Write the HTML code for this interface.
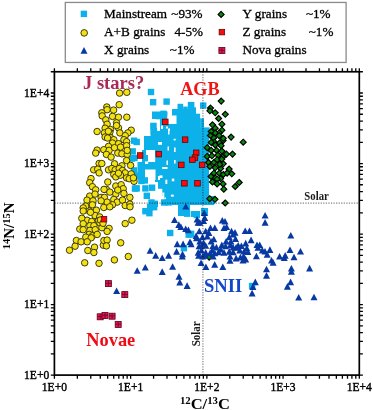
<!DOCTYPE html><html><head><meta charset="utf-8"><style>html,body{margin:0;padding:0;background:#fff;}svg{display:block;will-change:transform;}text{font-family:"Liberation Serif",serif;}</style></head><body>
<svg width="373" height="410" viewBox="0 0 373 410">
<rect width="373" height="410" fill="#fff"/>
<rect x="65.3" y="2.45" width="280.8" height="60.0" fill="none" stroke="#8a8a8a" stroke-width="1.3"/>
<rect x="80.7" y="10.7" width="6.4" height="6.4" fill="#0db1ea"/>
<circle cx="84.2" cy="32.9" r="3.3" fill="#f3e212" stroke="#363206" stroke-width="0.95"/>
<path d="M84.0 47.1l3.5 6.6h-7z" fill="#0838a2"/>
<path d="M221.1 11.4l3.0 3.0l-3.0 3.0l-3.0 -3.0z" fill="#058a0a" stroke="#000" stroke-width="1.15"/>
<rect x="219.1" y="29.3" width="5.6" height="5.6" fill="#ff0808" stroke="#400808" stroke-width="0.7"/>
<g><rect x="218.9" y="47.5" width="6" height="6" fill="#ec1450" stroke="#5a0020" stroke-width="0.8"/><path d="M218.9 50.2h6M221.9 47.5v6" stroke="#6a0a28" stroke-width="0.9"/></g>
<rect x="199" y="128" width="10" height="8" fill="#0db1ea"/>
<rect x="144" y="136" width="65" height="14" fill="#0db1ea"/>
<rect x="155" y="150" width="54" height="13" fill="#0db1ea"/>
<rect x="142" y="150" width="6" height="13" fill="#0db1ea"/>
<rect x="155" y="170" width="54" height="12" fill="#0db1ea"/>
<rect x="158" y="182" width="51" height="14" fill="#0db1ea"/>
<rect x="163" y="196" width="51" height="9" fill="#0db1ea"/>
<rect x="191" y="211" width="9" height="6" fill="#0db1ea"/>
<rect x="201" y="208" width="7" height="8" fill="#0db1ea"/>
<rect x="178" y="205" width="12" height="11" fill="#0db1ea"/>
<rect x="152" y="111.5" width="15.5" height="7.5" fill="#0db1ea"/>
<rect x="150.5" y="123" width="5.5" height="14" fill="#0db1ea"/>
<rect x="160" y="119" width="12" height="18" fill="#0db1ea"/>
<rect x="155" y="131" width="6" height="6" fill="#0db1ea"/>
<rect x="177.5" y="103.8" width="5.699999999999989" height="6.200000000000003" fill="#0db1ea"/>
<rect x="183.2" y="106.6" width="4.600000000000023" height="3.4000000000000057" fill="#0db1ea"/>
<rect x="187.8" y="101.9" width="6.599999999999994" height="8.099999999999994" fill="#0db1ea"/>
<rect x="172" y="109" width="24" height="27" fill="#0db1ea"/>
<rect x="193.7" y="107.3" width="2.3000000000000114" height="1.7000000000000028" fill="#0db1ea"/>
<rect x="196" y="113.7" width="4.099999999999994" height="22.299999999999997" fill="#0db1ea"/>
<rect x="200.1" y="118.4" width="3.9000000000000057" height="9.599999999999994" fill="#0db1ea"/>
<rect x="137.5" y="162" width="71.5" height="8" fill="#0db1ea"/>
<rect x="137.5" y="170" width="7.5" height="10" fill="#0db1ea"/>
<rect x="146" y="150" width="5.400000000000006" height="5" fill="#fff"/>
<rect x="150.4" y="156" width="4.799999999999983" height="5.400000000000006" fill="#fff"/>
<rect x="145" y="161.4" width="3.1999999999999886" height="2.5999999999999943" fill="#fff"/>
<rect x="145" y="169.5" width="10.5" height="10.5" fill="#fff"/>
<rect x="158" y="142" width="4" height="2.8000000000000114" fill="#fff"/>
<rect x="162.2" y="167" width="5.300000000000011" height="2" fill="#fff"/>
<rect x="167.5" y="146.5" width="1.5" height="4.0" fill="#fff"/>
<rect x="174" y="147.5" width="1.5999999999999943" height="4.5" fill="#fff"/>
<rect x="174" y="160" width="1.5999999999999943" height="3.5" fill="#fff"/>
<rect x="166.5" y="160.5" width="1.5" height="4.5" fill="#fff"/>
<rect x="158" y="176" width="2" height="4" fill="#fff"/>
<rect x="161" y="125.5" width="2" height="3.5" fill="#fff"/>
<rect x="168" y="131" width="1.5" height="3.5" fill="#fff"/>
<rect x="167.5" y="115.5" width="9.0" height="8.5" fill="#fff"/>
<rect x="166" y="126.5" width="2" height="2.0" fill="#fff"/>
<rect x="168" y="128.5" width="2" height="2.5" fill="#fff"/>
<rect x="173.6" y="138.8" width="2.0999999999999943" height="1.5999999999999943" fill="#fff"/>
<rect x="158" y="188.8" width="4.300000000000011" height="12.199999999999989" fill="#fff"/>
<rect x="162.3" y="192.5" width="2.0" height="7.5" fill="#fff"/>
<rect x="164.3" y="197.5" width="1.6999999999999886" height="2.0" fill="#fff"/>
<rect x="165.4" y="179.7" width="1.9000000000000057" height="4.300000000000011" fill="#fff"/>
<rect x="171.8" y="178.6" width="2.5" height="2.700000000000017" fill="#fff"/>
<rect x="170.9" y="194.7" width="2.9000000000000057" height="1.9000000000000057" fill="#fff"/>
<rect x="159.5" y="175.4" width="3.0" height="2.5999999999999943" fill="#fff"/>
<rect x="147.8" y="88.8" width="6.4" height="6.4" fill="#0db1ea"/>
<rect x="149.9" y="99.0" width="6.4" height="6.4" fill="#0db1ea"/>
<rect x="163.4" y="98.4" width="6.4" height="6.4" fill="#0db1ea"/>
<rect x="200.0" y="102.4" width="6.4" height="6.4" fill="#0db1ea"/>
<rect x="130.8" y="137.5" width="6.4" height="6.4" fill="#0db1ea"/>
<rect x="133.5" y="138.8" width="6.4" height="6.4" fill="#0db1ea"/>
<rect x="129.5" y="148.2" width="6.4" height="6.4" fill="#0db1ea"/>
<rect x="131.3" y="154.8" width="6.4" height="6.4" fill="#0db1ea"/>
<rect x="132.8" y="172.5" width="6.4" height="6.4" fill="#0db1ea"/>
<rect x="138.2" y="177.8" width="6.4" height="6.4" fill="#0db1ea"/>
<rect x="141.6" y="177.2" width="6.4" height="6.4" fill="#0db1ea"/>
<rect x="133.5" y="185.2" width="6.4" height="6.4" fill="#0db1ea"/>
<rect x="142.2" y="185.2" width="6.4" height="6.4" fill="#0db1ea"/>
<rect x="148.9" y="184.5" width="6.4" height="6.4" fill="#0db1ea"/>
<rect x="143.6" y="192.6" width="6.4" height="6.4" fill="#0db1ea"/>
<rect x="148.3" y="199.3" width="6.4" height="6.4" fill="#0db1ea"/>
<rect x="151.6" y="200.6" width="6.4" height="6.4" fill="#0db1ea"/>
<rect x="146.9" y="204.0" width="6.4" height="6.4" fill="#0db1ea"/>
<rect x="150.9" y="204.0" width="6.4" height="6.4" fill="#0db1ea"/>
<rect x="142.2" y="208.0" width="6.4" height="6.4" fill="#0db1ea"/>
<rect x="146.2" y="210.0" width="6.4" height="6.4" fill="#0db1ea"/>
<rect x="161.0" y="199.3" width="6.4" height="6.4" fill="#0db1ea"/>
<rect x="165.4" y="199.2" width="6.4" height="6.4" fill="#0db1ea"/>
<rect x="167.0" y="229.8" width="6.4" height="6.4" fill="#0db1ea"/>
<rect x="185.5" y="231.4" width="6.4" height="6.4" fill="#0db1ea"/>
<rect x="180.7" y="245.0" width="6.4" height="6.4" fill="#0db1ea"/>
<rect x="187.3" y="231.3" width="6.4" height="6.4" fill="#0db1ea"/>
<rect x="248.9" y="282.8" width="6.4" height="6.4" fill="#0db1ea"/>
<rect x="193.6" y="211.8" width="6.4" height="6.4" fill="#0db1ea"/>
<rect x="203.3" y="127.4" width="6.4" height="6.4" fill="#0db1ea"/>
<rect x="155.6" y="112.9" width="6.4" height="6.4" fill="#0db1ea"/>
<rect x="160.3" y="110.6" width="6.4" height="6.4" fill="#0db1ea"/>
<rect x="150.3" y="122.7" width="6.4" height="6.4" fill="#0db1ea"/>
<rect x="150.7" y="128.0" width="6.4" height="6.4" fill="#0db1ea"/>
<rect x="182.3" y="206.4" width="6.4" height="6.4" fill="#0db1ea"/>
<rect x="178.2" y="208.1" width="6.4" height="6.4" fill="#0db1ea"/>
<rect x="183.9" y="210.5" width="6.4" height="6.4" fill="#0db1ea"/>
<rect x="208.8" y="197.8" width="6.4" height="6.4" fill="#0db1ea"/>
<rect x="187.9" y="230.6" width="6.4" height="6.4" fill="#0db1ea"/>
<rect x="130.8" y="167.2" width="6.4" height="6.4" fill="#0db1ea"/>
<rect x="128.6" y="155.4" width="6.4" height="6.4" fill="#0db1ea"/>
<rect x="131.8" y="185.4" width="6.4" height="6.4" fill="#0db1ea"/>
<path d="M209.1 254.1l3.0 3.0l-3.0 3.0l-3.0 -3.0z" fill="#058a0a" stroke="#000" stroke-width="1.15"/>
<path d="M185.8 203.0l3.5 6.6h-7z" fill="#0838a2"/>
<path d="M204.3 209.5l3.5 6.6h-7z" fill="#0838a2"/>
<path d="M198.7 252.1l3.5 6.6h-7z" fill="#0838a2"/>
<path d="M205.1 252.1l3.5 6.6h-7z" fill="#0838a2"/>
<path d="M150.1 247.2l3.5 6.6h-7z" fill="#0838a2"/>
<path d="M155.7 252.1l3.5 6.6h-7z" fill="#0838a2"/>
<path d="M162.2 254.5l3.5 6.6h-7z" fill="#0838a2"/>
<path d="M168.6 252.1l3.5 6.6h-7z" fill="#0838a2"/>
<path d="M182.3 252.9l3.5 6.6h-7z" fill="#0838a2"/>
<path d="M265.1 211.9l3.5 6.6h-7z" fill="#0838a2"/>
<path d="M265.1 219.1l3.5 6.6h-7z" fill="#0838a2"/>
<path d="M290.8 232.0l3.5 6.6h-7z" fill="#0838a2"/>
<path d="M290.0 246.4l3.5 6.6h-7z" fill="#0838a2"/>
<path d="M300.5 248.0l3.5 6.6h-7z" fill="#0838a2"/>
<path d="M279.6 252.9l3.5 6.6h-7z" fill="#0838a2"/>
<path d="M285.2 252.1l3.5 6.6h-7z" fill="#0838a2"/>
<path d="M294.0 253.7l3.5 6.6h-7z" fill="#0838a2"/>
<path d="M309.6 264.8l3.5 6.6h-7z" fill="#0838a2"/>
<path d="M145.3 264.0l3.5 6.6h-7z" fill="#0838a2"/>
<path d="M137.2 267.2l3.5 6.6h-7z" fill="#0838a2"/>
<path d="M162.2 268.3l3.5 6.6h-7z" fill="#0838a2"/>
<path d="M172.6 263.2l3.5 6.6h-7z" fill="#0838a2"/>
<path d="M179.0 273.1l3.5 6.6h-7z" fill="#0838a2"/>
<path d="M179.8 278.8l3.5 6.6h-7z" fill="#0838a2"/>
<path d="M187.1 282.3l3.5 6.6h-7z" fill="#0838a2"/>
<path d="M202.7 253.0l3.5 6.6h-7z" fill="#0838a2"/>
<path d="M201.1 259.5l3.5 6.6h-7z" fill="#0838a2"/>
<path d="M205.9 263.5l3.5 6.6h-7z" fill="#0838a2"/>
<path d="M214.7 261.1l3.5 6.6h-7z" fill="#0838a2"/>
<path d="M222.8 263.5l3.5 6.6h-7z" fill="#0838a2"/>
<path d="M213.1 253.0l3.5 6.6h-7z" fill="#0838a2"/>
<path d="M230.0 253.0l3.5 6.6h-7z" fill="#0838a2"/>
<path d="M230.0 257.1l3.5 6.6h-7z" fill="#0838a2"/>
<path d="M284.2 254.5l3.5 6.6h-7z" fill="#0838a2"/>
<path d="M266.5 265.7l3.5 6.6h-7z" fill="#0838a2"/>
<path d="M266.5 272.1l3.5 6.6h-7z" fill="#0838a2"/>
<path d="M291.4 264.9l3.5 6.6h-7z" fill="#0838a2"/>
<path d="M291.4 268.1l3.5 6.6h-7z" fill="#0838a2"/>
<path d="M255.3 278.6l3.5 6.6h-7z" fill="#0838a2"/>
<path d="M252.9 283.4l3.5 6.6h-7z" fill="#0838a2"/>
<path d="M252.1 289.8l3.5 6.6h-7z" fill="#0838a2"/>
<path d="M290.6 278.6l3.5 6.6h-7z" fill="#0838a2"/>
<path d="M287.4 283.1l3.5 6.6h-7z" fill="#0838a2"/>
<path d="M298.7 293.9l3.5 6.6h-7z" fill="#0838a2"/>
<path d="M314.0 293.7l3.5 6.6h-7z" fill="#0838a2"/>
<path d="M116.6 287.4l3.5 6.6h-7z" fill="#0838a2"/>
<path d="M197.1 215.9l3.5 6.6h-7z" fill="#0838a2"/>
<path d="M204.7 214.3l3.5 6.6h-7z" fill="#0838a2"/>
<path d="M203.6 217.5l3.5 6.6h-7z" fill="#0838a2"/>
<path d="M199.8 219.1l3.5 6.6h-7z" fill="#0838a2"/>
<path d="M222.3 217.0l3.5 6.6h-7z" fill="#0838a2"/>
<path d="M225.0 218.0l3.5 6.6h-7z" fill="#0838a2"/>
<path d="M226.6 223.4l3.5 6.6h-7z" fill="#0838a2"/>
<path d="M224.0 224.5l3.5 6.6h-7z" fill="#0838a2"/>
<path d="M210.5 224.5l3.5 6.6h-7z" fill="#0838a2"/>
<path d="M214.8 224.5l3.5 6.6h-7z" fill="#0838a2"/>
<path d="M199.3 227.7l3.5 6.6h-7z" fill="#0838a2"/>
<path d="M205.7 227.7l3.5 6.6h-7z" fill="#0838a2"/>
<path d="M208.9 229.3l3.5 6.6h-7z" fill="#0838a2"/>
<path d="M196.1 232.5l3.5 6.6h-7z" fill="#0838a2"/>
<path d="M202.5 233.6l3.5 6.6h-7z" fill="#0838a2"/>
<path d="M207.3 233.0l3.5 6.6h-7z" fill="#0838a2"/>
<path d="M213.8 235.7l3.5 6.6h-7z" fill="#0838a2"/>
<path d="M211.1 237.9l3.5 6.6h-7z" fill="#0838a2"/>
<path d="M199.8 237.9l3.5 6.6h-7z" fill="#0838a2"/>
<path d="M203.6 239.5l3.5 6.6h-7z" fill="#0838a2"/>
<path d="M231.5 227.7l3.5 6.6h-7z" fill="#0838a2"/>
<path d="M233.1 230.9l3.5 6.6h-7z" fill="#0838a2"/>
<path d="M229.3 233.6l3.5 6.6h-7z" fill="#0838a2"/>
<path d="M226.1 237.9l3.5 6.6h-7z" fill="#0838a2"/>
<path d="M230.9 237.9l3.5 6.6h-7z" fill="#0838a2"/>
<path d="M221.8 241.6l3.5 6.6h-7z" fill="#0838a2"/>
<path d="M225.6 242.7l3.5 6.6h-7z" fill="#0838a2"/>
<path d="M230.4 241.6l3.5 6.6h-7z" fill="#0838a2"/>
<path d="M233.1 243.8l3.5 6.6h-7z" fill="#0838a2"/>
<path d="M201.4 242.7l3.5 6.6h-7z" fill="#0838a2"/>
<path d="M205.7 242.2l3.5 6.6h-7z" fill="#0838a2"/>
<path d="M212.7 242.7l3.5 6.6h-7z" fill="#0838a2"/>
<path d="M216.4 243.8l3.5 6.6h-7z" fill="#0838a2"/>
<path d="M220.7 245.9l3.5 6.6h-7z" fill="#0838a2"/>
<path d="M212.2 247.0l3.5 6.6h-7z" fill="#0838a2"/>
<path d="M201.4 247.0l3.5 6.6h-7z" fill="#0838a2"/>
<path d="M198.2 249.1l3.5 6.6h-7z" fill="#0838a2"/>
<path d="M205.7 249.1l3.5 6.6h-7z" fill="#0838a2"/>
<path d="M210.0 249.7l3.5 6.6h-7z" fill="#0838a2"/>
<path d="M224.0 249.1l3.5 6.6h-7z" fill="#0838a2"/>
<path d="M229.3 248.1l3.5 6.6h-7z" fill="#0838a2"/>
<path d="M233.1 248.6l3.5 6.6h-7z" fill="#0838a2"/>
<path d="M218.6 248.6l3.5 6.6h-7z" fill="#0838a2"/>
<path d="M214.8 249.7l3.5 6.6h-7z" fill="#0838a2"/>
<path d="M245.2 227.5l3.5 6.6h-7z" fill="#0838a2"/>
<path d="M249.5 227.5l3.5 6.6h-7z" fill="#0838a2"/>
<path d="M235.0 229.1l3.5 6.6h-7z" fill="#0838a2"/>
<path d="M235.5 235.5l3.5 6.6h-7z" fill="#0838a2"/>
<path d="M251.1 236.6l3.5 6.6h-7z" fill="#0838a2"/>
<path d="M245.7 239.8l3.5 6.6h-7z" fill="#0838a2"/>
<path d="M238.2 242.0l3.5 6.6h-7z" fill="#0838a2"/>
<path d="M241.4 242.5l3.5 6.6h-7z" fill="#0838a2"/>
<path d="M236.1 244.1l3.5 6.6h-7z" fill="#0838a2"/>
<path d="M246.8 244.7l3.5 6.6h-7z" fill="#0838a2"/>
<path d="M239.8 246.8l3.5 6.6h-7z" fill="#0838a2"/>
<path d="M244.1 247.9l3.5 6.6h-7z" fill="#0838a2"/>
<path d="M247.9 248.4l3.5 6.6h-7z" fill="#0838a2"/>
<path d="M257.0 241.4l3.5 6.6h-7z" fill="#0838a2"/>
<path d="M259.7 241.4l3.5 6.6h-7z" fill="#0838a2"/>
<path d="M258.0 244.1l3.5 6.6h-7z" fill="#0838a2"/>
<path d="M262.3 246.8l3.5 6.6h-7z" fill="#0838a2"/>
<path d="M265.0 247.9l3.5 6.6h-7z" fill="#0838a2"/>
<path d="M269.9 246.3l3.5 6.6h-7z" fill="#0838a2"/>
<path d="M256.4 252.7l3.5 6.6h-7z" fill="#0838a2"/>
<path d="M267.2 251.1l3.5 6.6h-7z" fill="#0838a2"/>
<path d="M243.6 252.7l3.5 6.6h-7z" fill="#0838a2"/>
<path d="M240.4 253.8l3.5 6.6h-7z" fill="#0838a2"/>
<path d="M245.7 255.9l3.5 6.6h-7z" fill="#0838a2"/>
<path d="M236.1 254.8l3.5 6.6h-7z" fill="#0838a2"/>
<path d="M243.0 257.0l3.5 6.6h-7z" fill="#0838a2"/>
<path d="M271.5 257.0l3.5 6.6h-7z" fill="#0838a2"/>
<path d="M273.1 259.1l3.5 6.6h-7z" fill="#0838a2"/>
<path d="M174.5 216.4l3.5 6.6h-7z" fill="#0838a2"/>
<path d="M178.8 221.3l3.5 6.6h-7z" fill="#0838a2"/>
<path d="M180.9 223.4l3.5 6.6h-7z" fill="#0838a2"/>
<path d="M185.7 225.5l3.5 6.6h-7z" fill="#0838a2"/>
<path d="M188.4 226.6l3.5 6.6h-7z" fill="#0838a2"/>
<path d="M198.1 219.1l3.5 6.6h-7z" fill="#0838a2"/>
<path d="M196.5 234.7l3.5 6.6h-7z" fill="#0838a2"/>
<path d="M177.2 240.6l3.5 6.6h-7z" fill="#0838a2"/>
<path d="M183.1 240.6l3.5 6.6h-7z" fill="#0838a2"/>
<path d="M190.0 238.4l3.5 6.6h-7z" fill="#0838a2"/>
<path d="M191.1 240.6l3.5 6.6h-7z" fill="#0838a2"/>
<path d="M176.6 248.1l3.5 6.6h-7z" fill="#0838a2"/>
<path d="M182.5 250.7l3.5 6.6h-7z" fill="#0838a2"/>
<path d="M199.1 242.7l3.5 6.6h-7z" fill="#0838a2"/>
<line x1="54.4" y1="203.1" x2="359.3" y2="203.1" stroke="#000" stroke-opacity="0.47" stroke-width="1.2" stroke-dasharray="1.3 1.26"/><line x1="202.9" y1="71.76985955579772" x2="202.9" y2="375.1" stroke="#000" stroke-opacity="0.47" stroke-width="1.2" stroke-dasharray="1.3 1.26"/>
<circle cx="119.6" cy="93.1" r="3.25" fill="#f3e212" stroke="#363206" stroke-width="0.95"/>
<circle cx="126.8" cy="92.3" r="3.25" fill="#f3e212" stroke="#363206" stroke-width="0.95"/>
<circle cx="119.2" cy="104.7" r="3.25" fill="#f3e212" stroke="#363206" stroke-width="0.95"/>
<circle cx="106.8" cy="107.0" r="3.25" fill="#f3e212" stroke="#363206" stroke-width="0.95"/>
<circle cx="107.1" cy="109.7" r="3.25" fill="#f3e212" stroke="#363206" stroke-width="0.95"/>
<circle cx="113.6" cy="110.1" r="3.25" fill="#f3e212" stroke="#363206" stroke-width="0.95"/>
<circle cx="101.8" cy="112.8" r="3.25" fill="#f3e212" stroke="#363206" stroke-width="0.95"/>
<circle cx="102.2" cy="115.9" r="3.25" fill="#f3e212" stroke="#363206" stroke-width="0.95"/>
<circle cx="112.5" cy="116.4" r="3.25" fill="#f3e212" stroke="#363206" stroke-width="0.95"/>
<circle cx="118.5" cy="117.2" r="3.25" fill="#f3e212" stroke="#363206" stroke-width="0.95"/>
<circle cx="126.8" cy="117.2" r="3.25" fill="#f3e212" stroke="#363206" stroke-width="0.95"/>
<circle cx="105.8" cy="119.9" r="3.25" fill="#f3e212" stroke="#363206" stroke-width="0.95"/>
<circle cx="107.1" cy="124.2" r="3.25" fill="#f3e212" stroke="#363206" stroke-width="0.95"/>
<circle cx="116.5" cy="122.8" r="3.25" fill="#f3e212" stroke="#363206" stroke-width="0.95"/>
<circle cx="118.5" cy="127.9" r="3.25" fill="#f3e212" stroke="#363206" stroke-width="0.95"/>
<circle cx="110.5" cy="129.5" r="3.25" fill="#f3e212" stroke="#363206" stroke-width="0.95"/>
<circle cx="97.1" cy="131.5" r="3.25" fill="#f3e212" stroke="#363206" stroke-width="0.95"/>
<circle cx="131.2" cy="130.2" r="3.25" fill="#f3e212" stroke="#363206" stroke-width="0.95"/>
<circle cx="119.9" cy="132.9" r="3.25" fill="#f3e212" stroke="#363206" stroke-width="0.95"/>
<circle cx="105.1" cy="128.2" r="3.25" fill="#f3e212" stroke="#363206" stroke-width="0.95"/>
<circle cx="116.5" cy="125.5" r="3.25" fill="#f3e212" stroke="#363206" stroke-width="0.95"/>
<circle cx="104.4" cy="132.9" r="3.25" fill="#f3e212" stroke="#363206" stroke-width="0.95"/>
<circle cx="127.9" cy="132.9" r="3.25" fill="#f3e212" stroke="#363206" stroke-width="0.95"/>
<circle cx="109.8" cy="132.3" r="3.25" fill="#f3e212" stroke="#363206" stroke-width="0.95"/>
<circle cx="105.1" cy="137.0" r="3.25" fill="#f3e212" stroke="#363206" stroke-width="0.95"/>
<circle cx="110.5" cy="137.7" r="3.25" fill="#f3e212" stroke="#363206" stroke-width="0.95"/>
<circle cx="113.8" cy="139.7" r="3.25" fill="#f3e212" stroke="#363206" stroke-width="0.95"/>
<circle cx="125.2" cy="135.7" r="3.25" fill="#f3e212" stroke="#363206" stroke-width="0.95"/>
<circle cx="123.9" cy="139.7" r="3.25" fill="#f3e212" stroke="#363206" stroke-width="0.95"/>
<circle cx="126.6" cy="141.7" r="3.25" fill="#f3e212" stroke="#363206" stroke-width="0.95"/>
<circle cx="112.5" cy="143.0" r="3.25" fill="#f3e212" stroke="#363206" stroke-width="0.95"/>
<circle cx="118.5" cy="143.7" r="3.25" fill="#f3e212" stroke="#363206" stroke-width="0.95"/>
<circle cx="108.5" cy="146.4" r="3.25" fill="#f3e212" stroke="#363206" stroke-width="0.95"/>
<circle cx="97.1" cy="150.1" r="3.25" fill="#f3e212" stroke="#363206" stroke-width="0.95"/>
<circle cx="95.7" cy="153.1" r="3.25" fill="#f3e212" stroke="#363206" stroke-width="0.95"/>
<circle cx="103.8" cy="149.7" r="3.25" fill="#f3e212" stroke="#363206" stroke-width="0.95"/>
<circle cx="109.1" cy="150.4" r="3.25" fill="#f3e212" stroke="#363206" stroke-width="0.95"/>
<circle cx="114.5" cy="147.7" r="3.25" fill="#f3e212" stroke="#363206" stroke-width="0.95"/>
<circle cx="120.5" cy="147.1" r="3.25" fill="#f3e212" stroke="#363206" stroke-width="0.95"/>
<circle cx="126.6" cy="145.7" r="3.25" fill="#f3e212" stroke="#363206" stroke-width="0.95"/>
<circle cx="117.8" cy="153.1" r="3.25" fill="#f3e212" stroke="#363206" stroke-width="0.95"/>
<circle cx="106.4" cy="154.4" r="3.25" fill="#f3e212" stroke="#363206" stroke-width="0.95"/>
<circle cx="111.1" cy="157.1" r="3.25" fill="#f3e212" stroke="#363206" stroke-width="0.95"/>
<circle cx="121.9" cy="153.8" r="3.25" fill="#f3e212" stroke="#363206" stroke-width="0.95"/>
<circle cx="127.2" cy="154.4" r="3.25" fill="#f3e212" stroke="#363206" stroke-width="0.95"/>
<circle cx="127.2" cy="150.4" r="3.25" fill="#f3e212" stroke="#363206" stroke-width="0.95"/>
<circle cx="99.1" cy="163.5" r="3.25" fill="#f3e212" stroke="#363206" stroke-width="0.95"/>
<circle cx="101.8" cy="163.5" r="3.25" fill="#f3e212" stroke="#363206" stroke-width="0.95"/>
<circle cx="114.5" cy="163.8" r="3.25" fill="#f3e212" stroke="#363206" stroke-width="0.95"/>
<circle cx="126.6" cy="160.5" r="3.25" fill="#f3e212" stroke="#363206" stroke-width="0.95"/>
<circle cx="130.6" cy="165.4" r="3.25" fill="#f3e212" stroke="#363206" stroke-width="0.95"/>
<circle cx="121.9" cy="165.8" r="3.25" fill="#f3e212" stroke="#363206" stroke-width="0.95"/>
<circle cx="93.7" cy="169.8" r="3.25" fill="#f3e212" stroke="#363206" stroke-width="0.95"/>
<circle cx="97.7" cy="169.2" r="3.25" fill="#f3e212" stroke="#363206" stroke-width="0.95"/>
<circle cx="99.1" cy="172.9" r="3.25" fill="#f3e212" stroke="#363206" stroke-width="0.95"/>
<circle cx="108.5" cy="169.8" r="3.25" fill="#f3e212" stroke="#363206" stroke-width="0.95"/>
<circle cx="111.8" cy="168.5" r="3.25" fill="#f3e212" stroke="#363206" stroke-width="0.95"/>
<circle cx="115.2" cy="169.8" r="3.25" fill="#f3e212" stroke="#363206" stroke-width="0.95"/>
<circle cx="119.2" cy="168.5" r="3.25" fill="#f3e212" stroke="#363206" stroke-width="0.95"/>
<circle cx="122.5" cy="170.5" r="3.25" fill="#f3e212" stroke="#363206" stroke-width="0.95"/>
<circle cx="125.2" cy="172.9" r="3.25" fill="#f3e212" stroke="#363206" stroke-width="0.95"/>
<circle cx="131.2" cy="173.9" r="3.25" fill="#f3e212" stroke="#363206" stroke-width="0.95"/>
<circle cx="113.8" cy="174.5" r="3.25" fill="#f3e212" stroke="#363206" stroke-width="0.95"/>
<circle cx="115.8" cy="176.9" r="3.25" fill="#f3e212" stroke="#363206" stroke-width="0.95"/>
<circle cx="120.5" cy="175.2" r="3.25" fill="#f3e212" stroke="#363206" stroke-width="0.95"/>
<circle cx="91.0" cy="178.6" r="3.25" fill="#f3e212" stroke="#363206" stroke-width="0.95"/>
<circle cx="126.6" cy="177.9" r="3.25" fill="#f3e212" stroke="#363206" stroke-width="0.95"/>
<circle cx="118.5" cy="173.2" r="3.25" fill="#f3e212" stroke="#363206" stroke-width="0.95"/>
<circle cx="108.3" cy="131.3" r="3.25" fill="#f3e212" stroke="#363206" stroke-width="0.95"/>
<circle cx="107.6" cy="138.0" r="3.25" fill="#f3e212" stroke="#363206" stroke-width="0.95"/>
<circle cx="89.7" cy="182.7" r="3.25" fill="#f3e212" stroke="#363206" stroke-width="0.95"/>
<circle cx="107.8" cy="182.0" r="3.25" fill="#f3e212" stroke="#363206" stroke-width="0.95"/>
<circle cx="129.2" cy="178.7" r="3.25" fill="#f3e212" stroke="#363206" stroke-width="0.95"/>
<circle cx="115.8" cy="186.0" r="3.25" fill="#f3e212" stroke="#363206" stroke-width="0.95"/>
<circle cx="121.2" cy="184.7" r="3.25" fill="#f3e212" stroke="#363206" stroke-width="0.95"/>
<circle cx="123.2" cy="188.7" r="3.25" fill="#f3e212" stroke="#363206" stroke-width="0.95"/>
<circle cx="92.4" cy="186.7" r="3.25" fill="#f3e212" stroke="#363206" stroke-width="0.95"/>
<circle cx="95.7" cy="189.8" r="3.25" fill="#f3e212" stroke="#363206" stroke-width="0.95"/>
<circle cx="106.4" cy="189.4" r="3.25" fill="#f3e212" stroke="#363206" stroke-width="0.95"/>
<circle cx="109.8" cy="192.1" r="3.25" fill="#f3e212" stroke="#363206" stroke-width="0.95"/>
<circle cx="115.8" cy="194.1" r="3.25" fill="#f3e212" stroke="#363206" stroke-width="0.95"/>
<circle cx="123.9" cy="193.4" r="3.25" fill="#f3e212" stroke="#363206" stroke-width="0.95"/>
<circle cx="129.9" cy="197.4" r="3.25" fill="#f3e212" stroke="#363206" stroke-width="0.95"/>
<circle cx="89.7" cy="196.1" r="3.25" fill="#f3e212" stroke="#363206" stroke-width="0.95"/>
<circle cx="87.0" cy="200.1" r="3.25" fill="#f3e212" stroke="#363206" stroke-width="0.95"/>
<circle cx="93.0" cy="200.8" r="3.25" fill="#f3e212" stroke="#363206" stroke-width="0.95"/>
<circle cx="95.0" cy="194.1" r="3.25" fill="#f3e212" stroke="#363206" stroke-width="0.95"/>
<circle cx="101.1" cy="197.4" r="3.25" fill="#f3e212" stroke="#363206" stroke-width="0.95"/>
<circle cx="104.4" cy="197.4" r="3.25" fill="#f3e212" stroke="#363206" stroke-width="0.95"/>
<circle cx="107.1" cy="202.1" r="3.25" fill="#f3e212" stroke="#363206" stroke-width="0.95"/>
<circle cx="113.8" cy="199.4" r="3.25" fill="#f3e212" stroke="#363206" stroke-width="0.95"/>
<circle cx="117.2" cy="202.1" r="3.25" fill="#f3e212" stroke="#363206" stroke-width="0.95"/>
<circle cx="122.5" cy="200.1" r="3.25" fill="#f3e212" stroke="#363206" stroke-width="0.95"/>
<circle cx="112.5" cy="204.8" r="3.25" fill="#f3e212" stroke="#363206" stroke-width="0.95"/>
<circle cx="125.2" cy="205.5" r="3.25" fill="#f3e212" stroke="#363206" stroke-width="0.95"/>
<circle cx="129.9" cy="204.1" r="3.25" fill="#f3e212" stroke="#363206" stroke-width="0.95"/>
<circle cx="92.4" cy="204.8" r="3.25" fill="#f3e212" stroke="#363206" stroke-width="0.95"/>
<circle cx="103.8" cy="207.5" r="3.25" fill="#f3e212" stroke="#363206" stroke-width="0.95"/>
<circle cx="109.8" cy="206.8" r="3.25" fill="#f3e212" stroke="#363206" stroke-width="0.95"/>
<circle cx="89.0" cy="210.8" r="3.25" fill="#f3e212" stroke="#363206" stroke-width="0.95"/>
<circle cx="96.4" cy="210.2" r="3.25" fill="#f3e212" stroke="#363206" stroke-width="0.95"/>
<circle cx="95.0" cy="215.5" r="3.25" fill="#f3e212" stroke="#363206" stroke-width="0.95"/>
<circle cx="99.7" cy="216.9" r="3.25" fill="#f3e212" stroke="#363206" stroke-width="0.95"/>
<circle cx="87.0" cy="220.2" r="3.25" fill="#f3e212" stroke="#363206" stroke-width="0.95"/>
<circle cx="91.7" cy="221.5" r="3.25" fill="#f3e212" stroke="#363206" stroke-width="0.95"/>
<circle cx="98.4" cy="220.9" r="3.25" fill="#f3e212" stroke="#363206" stroke-width="0.95"/>
<circle cx="131.9" cy="220.2" r="3.25" fill="#f3e212" stroke="#363206" stroke-width="0.95"/>
<circle cx="125.2" cy="223.6" r="3.25" fill="#f3e212" stroke="#363206" stroke-width="0.95"/>
<circle cx="117.8" cy="190.0" r="3.25" fill="#f3e212" stroke="#363206" stroke-width="0.95"/>
<circle cx="85.7" cy="206.1" r="3.25" fill="#f3e212" stroke="#363206" stroke-width="0.95"/>
<circle cx="101.1" cy="200.8" r="3.25" fill="#f3e212" stroke="#363206" stroke-width="0.95"/>
<circle cx="83.2" cy="207.9" r="3.25" fill="#f3e212" stroke="#363206" stroke-width="0.95"/>
<circle cx="104.0" cy="189.4" r="3.25" fill="#f3e212" stroke="#363206" stroke-width="0.95"/>
<circle cx="83.2" cy="211.0" r="3.25" fill="#f3e212" stroke="#363206" stroke-width="0.95"/>
<circle cx="90.5" cy="212.3" r="3.25" fill="#f3e212" stroke="#363206" stroke-width="0.95"/>
<circle cx="81.8" cy="218.3" r="3.25" fill="#f3e212" stroke="#363206" stroke-width="0.95"/>
<circle cx="83.2" cy="223.7" r="3.25" fill="#f3e212" stroke="#363206" stroke-width="0.95"/>
<circle cx="99.9" cy="223.0" r="3.25" fill="#f3e212" stroke="#363206" stroke-width="0.95"/>
<circle cx="89.9" cy="225.7" r="3.25" fill="#f3e212" stroke="#363206" stroke-width="0.95"/>
<circle cx="93.9" cy="225.7" r="3.25" fill="#f3e212" stroke="#363206" stroke-width="0.95"/>
<circle cx="79.8" cy="229.1" r="3.25" fill="#f3e212" stroke="#363206" stroke-width="0.95"/>
<circle cx="83.2" cy="229.7" r="3.25" fill="#f3e212" stroke="#363206" stroke-width="0.95"/>
<circle cx="89.9" cy="230.4" r="3.25" fill="#f3e212" stroke="#363206" stroke-width="0.95"/>
<circle cx="95.2" cy="229.7" r="3.25" fill="#f3e212" stroke="#363206" stroke-width="0.95"/>
<circle cx="101.9" cy="227.7" r="3.25" fill="#f3e212" stroke="#363206" stroke-width="0.95"/>
<circle cx="89.2" cy="234.4" r="3.25" fill="#f3e212" stroke="#363206" stroke-width="0.95"/>
<circle cx="92.5" cy="235.8" r="3.25" fill="#f3e212" stroke="#363206" stroke-width="0.95"/>
<circle cx="97.2" cy="234.4" r="3.25" fill="#f3e212" stroke="#363206" stroke-width="0.95"/>
<circle cx="85.8" cy="237.1" r="3.25" fill="#f3e212" stroke="#363206" stroke-width="0.95"/>
<circle cx="91.2" cy="237.8" r="3.25" fill="#f3e212" stroke="#363206" stroke-width="0.95"/>
<circle cx="76.4" cy="240.5" r="3.25" fill="#f3e212" stroke="#363206" stroke-width="0.95"/>
<circle cx="81.1" cy="241.8" r="3.25" fill="#f3e212" stroke="#363206" stroke-width="0.95"/>
<circle cx="87.2" cy="241.8" r="3.25" fill="#f3e212" stroke="#363206" stroke-width="0.95"/>
<circle cx="75.1" cy="246.2" r="3.25" fill="#f3e212" stroke="#363206" stroke-width="0.95"/>
<circle cx="69.5" cy="250.2" r="3.25" fill="#f3e212" stroke="#363206" stroke-width="0.95"/>
<circle cx="94.5" cy="247.2" r="3.25" fill="#f3e212" stroke="#363206" stroke-width="0.95"/>
<circle cx="87.8" cy="250.5" r="3.25" fill="#f3e212" stroke="#363206" stroke-width="0.95"/>
<circle cx="93.9" cy="252.5" r="3.25" fill="#f3e212" stroke="#363206" stroke-width="0.95"/>
<circle cx="103.3" cy="245.2" r="3.25" fill="#f3e212" stroke="#363206" stroke-width="0.95"/>
<circle cx="103.9" cy="240.5" r="3.25" fill="#f3e212" stroke="#363206" stroke-width="0.95"/>
<circle cx="109.1" cy="228.4" r="3.25" fill="#f3e212" stroke="#363206" stroke-width="0.95"/>
<circle cx="107.1" cy="231.4" r="3.25" fill="#f3e212" stroke="#363206" stroke-width="0.95"/>
<circle cx="107.1" cy="240.1" r="3.25" fill="#f3e212" stroke="#363206" stroke-width="0.95"/>
<circle cx="106.4" cy="245.9" r="3.25" fill="#f3e212" stroke="#363206" stroke-width="0.95"/>
<circle cx="120.7" cy="242.8" r="3.25" fill="#f3e212" stroke="#363206" stroke-width="0.95"/>
<circle cx="128.3" cy="256.5" r="3.25" fill="#f3e212" stroke="#363206" stroke-width="0.95"/>
<circle cx="114.4" cy="259.9" r="3.25" fill="#f3e212" stroke="#363206" stroke-width="0.95"/>
<circle cx="99.0" cy="263.3" r="3.25" fill="#f3e212" stroke="#363206" stroke-width="0.95"/>
<circle cx="100.4" cy="220.0" r="3.25" fill="#f3e212" stroke="#363206" stroke-width="0.95"/>
<circle cx="103.0" cy="223.3" r="3.25" fill="#f3e212" stroke="#363206" stroke-width="0.95"/>
<circle cx="84.7" cy="262.8" r="3.25" fill="#f3e212" stroke="#363206" stroke-width="0.95"/>
<circle cx="134.0" cy="181.3" r="3.25" fill="#f3e212" stroke="#363206" stroke-width="0.95"/>
<circle cx="130.0" cy="206.8" r="3.25" fill="#f3e212" stroke="#363206" stroke-width="0.95"/>
<circle cx="133.4" cy="177.9" r="3.25" fill="#f3e212" stroke="#363206" stroke-width="0.95"/>
<path d="M221.2 98.1l3.0 3.0l-3.0 3.0l-3.0 -3.0z" fill="#058a0a" stroke="#000" stroke-width="1.15"/>
<path d="M210.5 105.1l3.0 3.0l-3.0 3.0l-3.0 -3.0z" fill="#058a0a" stroke="#000" stroke-width="1.15"/>
<path d="M209.9 107.8l3.0 3.0l-3.0 3.0l-3.0 -3.0z" fill="#058a0a" stroke="#000" stroke-width="1.15"/>
<path d="M215.2 109.8l3.0 3.0l-3.0 3.0l-3.0 -3.0z" fill="#058a0a" stroke="#000" stroke-width="1.15"/>
<path d="M218.6 115.5l3.0 3.0l-3.0 3.0l-3.0 -3.0z" fill="#058a0a" stroke="#000" stroke-width="1.15"/>
<path d="M221.9 121.2l3.0 3.0l-3.0 3.0l-3.0 -3.0z" fill="#058a0a" stroke="#000" stroke-width="1.15"/>
<path d="M212.5 121.8l3.0 3.0l-3.0 3.0l-3.0 -3.0z" fill="#058a0a" stroke="#000" stroke-width="1.15"/>
<path d="M215.2 125.2l3.0 3.0l-3.0 3.0l-3.0 -3.0z" fill="#058a0a" stroke="#000" stroke-width="1.15"/>
<path d="M211.2 128.5l3.0 3.0l-3.0 3.0l-3.0 -3.0z" fill="#058a0a" stroke="#000" stroke-width="1.15"/>
<path d="M221.9 127.2l3.0 3.0l-3.0 3.0l-3.0 -3.0z" fill="#058a0a" stroke="#000" stroke-width="1.15"/>
<path d="M219.2 129.9l3.0 3.0l-3.0 3.0l-3.0 -3.0z" fill="#058a0a" stroke="#000" stroke-width="1.15"/>
<path d="M231.1 134.1l3.0 3.0l-3.0 3.0l-3.0 -3.0z" fill="#058a0a" stroke="#000" stroke-width="1.15"/>
<path d="M213.7 134.9l3.0 3.0l-3.0 3.0l-3.0 -3.0z" fill="#058a0a" stroke="#000" stroke-width="1.15"/>
<path d="M223.1 137.6l3.0 3.0l-3.0 3.0l-3.0 -3.0z" fill="#058a0a" stroke="#000" stroke-width="1.15"/>
<path d="M243.2 139.2l3.0 3.0l-3.0 3.0l-3.0 -3.0z" fill="#058a0a" stroke="#000" stroke-width="1.15"/>
<path d="M214.4 139.2l3.0 3.0l-3.0 3.0l-3.0 -3.0z" fill="#058a0a" stroke="#000" stroke-width="1.15"/>
<path d="M219.7 139.9l3.0 3.0l-3.0 3.0l-3.0 -3.0z" fill="#058a0a" stroke="#000" stroke-width="1.15"/>
<path d="M210.4 132.5l3.0 3.0l-3.0 3.0l-3.0 -3.0z" fill="#058a0a" stroke="#000" stroke-width="1.15"/>
<path d="M215.2 130.0l3.0 3.0l-3.0 3.0l-3.0 -3.0z" fill="#058a0a" stroke="#000" stroke-width="1.15"/>
<path d="M219.2 132.7l3.0 3.0l-3.0 3.0l-3.0 -3.0z" fill="#058a0a" stroke="#000" stroke-width="1.15"/>
<path d="M223.3 135.3l3.0 3.0l-3.0 3.0l-3.0 -3.0z" fill="#058a0a" stroke="#000" stroke-width="1.15"/>
<path d="M211.2 139.4l3.0 3.0l-3.0 3.0l-3.0 -3.0z" fill="#058a0a" stroke="#000" stroke-width="1.15"/>
<path d="M215.2 142.0l3.0 3.0l-3.0 3.0l-3.0 -3.0z" fill="#058a0a" stroke="#000" stroke-width="1.15"/>
<path d="M207.2 144.7l3.0 3.0l-3.0 3.0l-3.0 -3.0z" fill="#058a0a" stroke="#000" stroke-width="1.15"/>
<path d="M211.2 147.4l3.0 3.0l-3.0 3.0l-3.0 -3.0z" fill="#058a0a" stroke="#000" stroke-width="1.15"/>
<path d="M216.6 147.4l3.0 3.0l-3.0 3.0l-3.0 -3.0z" fill="#058a0a" stroke="#000" stroke-width="1.15"/>
<path d="M221.9 148.1l3.0 3.0l-3.0 3.0l-3.0 -3.0z" fill="#058a0a" stroke="#000" stroke-width="1.15"/>
<path d="M207.2 153.4l3.0 3.0l-3.0 3.0l-3.0 -3.0z" fill="#058a0a" stroke="#000" stroke-width="1.15"/>
<path d="M211.9 152.8l3.0 3.0l-3.0 3.0l-3.0 -3.0z" fill="#058a0a" stroke="#000" stroke-width="1.15"/>
<path d="M217.9 152.1l3.0 3.0l-3.0 3.0l-3.0 -3.0z" fill="#058a0a" stroke="#000" stroke-width="1.15"/>
<path d="M222.6 154.1l3.0 3.0l-3.0 3.0l-3.0 -3.0z" fill="#058a0a" stroke="#000" stroke-width="1.15"/>
<path d="M208.5 159.5l3.0 3.0l-3.0 3.0l-3.0 -3.0z" fill="#058a0a" stroke="#000" stroke-width="1.15"/>
<path d="M213.9 159.5l3.0 3.0l-3.0 3.0l-3.0 -3.0z" fill="#058a0a" stroke="#000" stroke-width="1.15"/>
<path d="M219.2 158.1l3.0 3.0l-3.0 3.0l-3.0 -3.0z" fill="#058a0a" stroke="#000" stroke-width="1.15"/>
<path d="M223.3 160.8l3.0 3.0l-3.0 3.0l-3.0 -3.0z" fill="#058a0a" stroke="#000" stroke-width="1.15"/>
<path d="M209.9 163.5l3.0 3.0l-3.0 3.0l-3.0 -3.0z" fill="#058a0a" stroke="#000" stroke-width="1.15"/>
<path d="M215.2 164.8l3.0 3.0l-3.0 3.0l-3.0 -3.0z" fill="#058a0a" stroke="#000" stroke-width="1.15"/>
<path d="M220.6 165.5l3.0 3.0l-3.0 3.0l-3.0 -3.0z" fill="#058a0a" stroke="#000" stroke-width="1.15"/>
<path d="M213.9 170.2l3.0 3.0l-3.0 3.0l-3.0 -3.0z" fill="#058a0a" stroke="#000" stroke-width="1.15"/>
<path d="M219.2 170.2l3.0 3.0l-3.0 3.0l-3.0 -3.0z" fill="#058a0a" stroke="#000" stroke-width="1.15"/>
<path d="M223.3 171.5l3.0 3.0l-3.0 3.0l-3.0 -3.0z" fill="#058a0a" stroke="#000" stroke-width="1.15"/>
<path d="M215.2 174.9l3.0 3.0l-3.0 3.0l-3.0 -3.0z" fill="#058a0a" stroke="#000" stroke-width="1.15"/>
<path d="M220.6 175.6l3.0 3.0l-3.0 3.0l-3.0 -3.0z" fill="#058a0a" stroke="#000" stroke-width="1.15"/>
<path d="M221.1 142.7l3.0 3.0l-3.0 3.0l-3.0 -3.0z" fill="#058a0a" stroke="#000" stroke-width="1.15"/>
<path d="M226.4 151.1l3.0 3.0l-3.0 3.0l-3.0 -3.0z" fill="#058a0a" stroke="#000" stroke-width="1.15"/>
<path d="M232.5 151.1l3.0 3.0l-3.0 3.0l-3.0 -3.0z" fill="#058a0a" stroke="#000" stroke-width="1.15"/>
<path d="M217.1 156.7l3.0 3.0l-3.0 3.0l-3.0 -3.0z" fill="#058a0a" stroke="#000" stroke-width="1.15"/>
<path d="M221.8 156.1l3.0 3.0l-3.0 3.0l-3.0 -3.0z" fill="#058a0a" stroke="#000" stroke-width="1.15"/>
<path d="M219.7 161.4l3.0 3.0l-3.0 3.0l-3.0 -3.0z" fill="#058a0a" stroke="#000" stroke-width="1.15"/>
<path d="M229.1 166.1l3.0 3.0l-3.0 3.0l-3.0 -3.0z" fill="#058a0a" stroke="#000" stroke-width="1.15"/>
<path d="M227.1 170.1l3.0 3.0l-3.0 3.0l-3.0 -3.0z" fill="#058a0a" stroke="#000" stroke-width="1.15"/>
<path d="M231.8 170.8l3.0 3.0l-3.0 3.0l-3.0 -3.0z" fill="#058a0a" stroke="#000" stroke-width="1.15"/>
<path d="M217.1 176.2l3.0 3.0l-3.0 3.0l-3.0 -3.0z" fill="#058a0a" stroke="#000" stroke-width="1.15"/>
<path d="M212.4 178.9l3.0 3.0l-3.0 3.0l-3.0 -3.0z" fill="#058a0a" stroke="#000" stroke-width="1.15"/>
<path d="M217.1 180.9l3.0 3.0l-3.0 3.0l-3.0 -3.0z" fill="#058a0a" stroke="#000" stroke-width="1.15"/>
<path d="M223.1 180.9l3.0 3.0l-3.0 3.0l-3.0 -3.0z" fill="#058a0a" stroke="#000" stroke-width="1.15"/>
<path d="M239.2 179.5l3.0 3.0l-3.0 3.0l-3.0 -3.0z" fill="#058a0a" stroke="#000" stroke-width="1.15"/>
<path d="M235.2 183.5l3.0 3.0l-3.0 3.0l-3.0 -3.0z" fill="#058a0a" stroke="#000" stroke-width="1.15"/>
<path d="M223.8 186.2l3.0 3.0l-3.0 3.0l-3.0 -3.0z" fill="#058a0a" stroke="#000" stroke-width="1.15"/>
<path d="M211.0 173.5l3.0 3.0l-3.0 3.0l-3.0 -3.0z" fill="#058a0a" stroke="#000" stroke-width="1.15"/>
<path d="M209.7 195.7l3.0 3.0l-3.0 3.0l-3.0 -3.0z" fill="#058a0a" stroke="#000" stroke-width="1.15"/>
<path d="M215.0 196.3l3.0 3.0l-3.0 3.0l-3.0 -3.0z" fill="#058a0a" stroke="#000" stroke-width="1.15"/>
<path d="M225.2 200.0l3.0 3.0l-3.0 3.0l-3.0 -3.0z" fill="#058a0a" stroke="#000" stroke-width="1.15"/>
<path d="M225.3 111.3l3.0 3.0l-3.0 3.0l-3.0 -3.0z" fill="#058a0a" stroke="#000" stroke-width="1.15"/>
<rect x="162.5" y="119.1" width="5.6" height="5.6" fill="#ff0808" stroke="#400808" stroke-width="0.7"/>
<rect x="137.3" y="152.7" width="5.6" height="5.6" fill="#ff0808" stroke="#400808" stroke-width="0.7"/>
<rect x="156.0" y="151.3" width="5.6" height="5.6" fill="#ff0808" stroke="#400808" stroke-width="0.7"/>
<rect x="182.3" y="136.9" width="5.6" height="5.6" fill="#ff0808" stroke="#400808" stroke-width="0.7"/>
<rect x="193.4" y="150.0" width="5.6" height="5.6" fill="#ff0808" stroke="#400808" stroke-width="0.7"/>
<rect x="192.2" y="154.9" width="5.6" height="5.6" fill="#ff0808" stroke="#400808" stroke-width="0.7"/>
<rect x="189.6" y="157.0" width="5.6" height="5.6" fill="#ff0808" stroke="#400808" stroke-width="0.7"/>
<rect x="178.5" y="162.1" width="5.6" height="5.6" fill="#ff0808" stroke="#400808" stroke-width="0.7"/>
<rect x="199.3" y="162.1" width="5.6" height="5.6" fill="#ff0808" stroke="#400808" stroke-width="0.7"/>
<rect x="181.6" y="180.5" width="5.6" height="5.6" fill="#ff0808" stroke="#400808" stroke-width="0.7"/>
<rect x="194.7" y="180.5" width="5.6" height="5.6" fill="#ff0808" stroke="#400808" stroke-width="0.7"/>
<rect x="101.2" y="216.4" width="5.6" height="5.6" fill="#ff0808" stroke="#400808" stroke-width="0.7"/>
<g><rect x="105.4" y="280.6" width="6" height="6" fill="#ec1450" stroke="#5a0020" stroke-width="0.8"/><path d="M105.4 283.3h6M108.4 280.6v6" stroke="#6a0a28" stroke-width="0.9"/></g>
<g><rect x="121.8" y="291.6" width="6" height="6" fill="#ec1450" stroke="#5a0020" stroke-width="0.8"/><path d="M121.8 294.3h6M124.8 291.6v6" stroke="#6a0a28" stroke-width="0.9"/></g>
<g><rect x="97.2" y="313.8" width="6" height="6" fill="#ec1450" stroke="#5a0020" stroke-width="0.8"/><path d="M97.2 316.5h6M100.2 313.8v6" stroke="#6a0a28" stroke-width="0.9"/></g>
<g><rect x="102.0" y="312.5" width="6" height="6" fill="#ec1450" stroke="#5a0020" stroke-width="0.8"/><path d="M102.0 315.2h6M105.0 312.5v6" stroke="#6a0a28" stroke-width="0.9"/></g>
<g><rect x="109.1" y="313.2" width="6" height="6" fill="#ec1450" stroke="#5a0020" stroke-width="0.8"/><path d="M109.1 315.9h6M112.1 313.2v6" stroke="#6a0a28" stroke-width="0.9"/></g>
<g><rect x="115.2" y="321.5" width="6" height="6" fill="#ec1450" stroke="#5a0020" stroke-width="0.8"/><path d="M115.2 324.2h6M118.2 321.5v6" stroke="#6a0a28" stroke-width="0.9"/></g>
<rect x="54.4" y="71.77" width="304.90" height="303.33" fill="none" stroke="#000" stroke-width="1.7"/>
<path d="M54.40 375.10v3.6M54.40 71.77v-3.6M77.35 375.10v3.6M77.35 71.77v-3.6M90.77 375.10v3.6M90.77 71.77v-3.6M100.29 375.10v3.6M100.29 71.77v-3.6M107.68 375.10v3.6M107.68 71.77v-3.6M113.71 375.10v3.6M113.71 71.77v-3.6M118.82 375.10v3.6M118.82 71.77v-3.6M123.24 375.10v3.6M123.24 71.77v-3.6M127.14 375.10v3.6M127.14 71.77v-3.6M130.62 375.10v3.6M130.62 71.77v-3.6M153.57 375.10v3.6M153.57 71.77v-3.6M166.99 375.10v3.6M166.99 71.77v-3.6M176.52 375.10v3.6M176.52 71.77v-3.6M183.90 375.10v3.6M183.90 71.77v-3.6M189.94 375.10v3.6M189.94 71.77v-3.6M195.04 375.10v3.6M195.04 71.77v-3.6M199.46 375.10v3.6M199.46 71.77v-3.6M203.36 375.10v3.6M203.36 71.77v-3.6M206.85 375.10v3.6M206.85 71.77v-3.6M229.80 375.10v3.6M229.80 71.77v-3.6M243.22 375.10v3.6M243.22 71.77v-3.6M252.74 375.10v3.6M252.74 71.77v-3.6M260.13 375.10v3.6M260.13 71.77v-3.6M266.16 375.10v3.6M266.16 71.77v-3.6M271.27 375.10v3.6M271.27 71.77v-3.6M275.69 375.10v3.6M275.69 71.77v-3.6M279.59 375.10v3.6M279.59 71.77v-3.6M283.07 375.10v3.6M283.07 71.77v-3.6M306.02 375.10v3.6M306.02 71.77v-3.6M319.44 375.10v3.6M319.44 71.77v-3.6M328.97 375.10v3.6M328.97 71.77v-3.6M336.35 375.10v3.6M336.35 71.77v-3.6M342.39 375.10v3.6M342.39 71.77v-3.6M347.49 375.10v3.6M347.49 71.77v-3.6M351.91 375.10v3.6M351.91 71.77v-3.6M355.81 375.10v3.6M355.81 71.77v-3.6M359.30 375.10v3.6M359.30 71.77v-3.6M54.40 375.10h-3.6M359.30 375.10h3.6M54.40 353.87h-3.6M359.30 353.87h3.6M54.40 341.45h-3.6M359.30 341.45h3.6M54.40 332.64h-3.6M359.30 332.64h3.6M54.40 325.81h-3.6M359.30 325.81h3.6M54.40 320.22h-3.6M359.30 320.22h3.6M54.40 315.50h-3.6M359.30 315.50h3.6M54.40 311.41h-3.6M359.30 311.41h3.6M54.40 307.80h-3.6M359.30 307.80h3.6M54.40 304.58h-3.6M359.30 304.58h3.6M54.40 283.34h-3.6M359.30 283.34h3.6M54.40 270.93h-3.6M359.30 270.93h3.6M54.40 262.11h-3.6M359.30 262.11h3.6M54.40 255.28h-3.6M359.30 255.28h3.6M54.40 249.70h-3.6M359.30 249.70h3.6M54.40 244.97h-3.6M359.30 244.97h3.6M54.40 240.88h-3.6M359.30 240.88h3.6M54.40 237.28h-3.6M359.30 237.28h3.6M54.40 234.05h-3.6M359.30 234.05h3.6M54.40 212.82h-3.6M359.30 212.82h3.6M54.40 200.40h-3.6M359.30 200.40h3.6M54.40 191.59h-3.6M359.30 191.59h3.6M54.40 184.76h-3.6M359.30 184.76h3.6M54.40 179.17h-3.6M359.30 179.17h3.6M54.40 174.45h-3.6M359.30 174.45h3.6M54.40 170.36h-3.6M359.30 170.36h3.6M54.40 166.75h-3.6M359.30 166.75h3.6M54.40 163.53h-3.6M359.30 163.53h3.6M54.40 142.29h-3.6M359.30 142.29h3.6M54.40 129.88h-3.6M359.30 129.88h3.6M54.40 121.06h-3.6M359.30 121.06h3.6M54.40 114.23h-3.6M359.30 114.23h3.6M54.40 108.65h-3.6M359.30 108.65h3.6M54.40 103.92h-3.6M359.30 103.92h3.6M54.40 99.83h-3.6M359.30 99.83h3.6M54.40 96.23h-3.6M359.30 96.23h3.6M54.40 93.00h-3.6M359.30 93.00h3.6M54.40 71.77h-3.6M359.30 71.77h3.6" stroke="#000" stroke-width="1.3" fill="none"/>
<text transform="translate(54.40,390.60) scale(0.94,1)" font-size="12.3" text-anchor="middle" fill="#000" stroke="#000" stroke-width="0.4">1E+0</text>
<text transform="translate(49.20,378.90) scale(0.94,1)" font-size="12.3" text-anchor="end" fill="#000" stroke="#000" stroke-width="0.4">1E+0</text>
<text transform="translate(130.62,390.60) scale(0.94,1)" font-size="12.3" text-anchor="middle" fill="#000" stroke="#000" stroke-width="0.4">1E+1</text>
<text transform="translate(49.20,308.38) scale(0.94,1)" font-size="12.3" text-anchor="end" fill="#000" stroke="#000" stroke-width="0.4">1E+1</text>
<text transform="translate(206.85,390.60) scale(0.94,1)" font-size="12.3" text-anchor="middle" fill="#000" stroke="#000" stroke-width="0.4">1E+2</text>
<text transform="translate(49.20,237.85) scale(0.94,1)" font-size="12.3" text-anchor="end" fill="#000" stroke="#000" stroke-width="0.4">1E+2</text>
<text transform="translate(283.07,390.60) scale(0.94,1)" font-size="12.3" text-anchor="middle" fill="#000" stroke="#000" stroke-width="0.4">1E+3</text>
<text transform="translate(49.20,167.33) scale(0.94,1)" font-size="12.3" text-anchor="end" fill="#000" stroke="#000" stroke-width="0.4">1E+3</text>
<text transform="translate(359.30,390.60) scale(0.94,1)" font-size="12.3" text-anchor="middle" fill="#000" stroke="#000" stroke-width="0.4">1E+4</text>
<text transform="translate(49.20,96.80) scale(0.94,1)" font-size="12.3" text-anchor="end" fill="#000" stroke="#000" stroke-width="0.4">1E+4</text>
<text transform="translate(204.90,409.20) scale(1.08,1)" font-size="15.3" text-anchor="middle" fill="#000" font-weight="bold"><tspan font-size="10" dy="-5.5">12</tspan><tspan dy="5.5">C/</tspan><tspan font-size="10" dy="-5.5">13</tspan><tspan dy="5.5">C</tspan></text>
<text transform="translate(13.80,225.80) rotate(-90) scale(1,1.0)" font-size="15" text-anchor="middle" fill="#000" font-weight="bold"><tspan font-size="10.5" dy="-4.2">14</tspan><tspan dy="4.2">N/</tspan><tspan font-size="10.5" dy="-4.2">15</tspan><tspan dy="4.2">N</tspan></text>
<text transform="translate(83.00,88.60) scale(0.95,1)" font-size="19.5" text-anchor="start" fill="#a82a54" font-weight="bold">J stars?</text>
<text transform="translate(180.20,94.80) scale(0.985,1)" font-size="18.5" text-anchor="start" fill="#f01414" font-weight="bold">AGB</text>
<text transform="translate(204.00,292.00) scale(1.0,1)" font-size="18.6" text-anchor="start" fill="#1446c8" font-weight="bold">SNII</text>
<text transform="translate(86.30,346.40) scale(1.015,1)" font-size="18.1" text-anchor="start" fill="#f00a14" font-weight="bold">Novae</text>
<text transform="translate(304.30,199.60) scale(0.92,1)" font-size="11.7" text-anchor="start" fill="#1a1a1a" font-weight="bold">Solar</text>
<text transform="translate(200.30,346.30) rotate(-90) scale(1,1.1)" font-size="11.0" text-anchor="start" fill="#1a1a1a" font-weight="bold">Solar</text>
<text transform="translate(104.10,17.50) scale(1.015,1)" font-size="13" text-anchor="start" fill="#000" stroke="#000" stroke-width="0.3">Mainstream</text>
<text transform="translate(171.30,17.50) scale(1.015,1)" font-size="13" text-anchor="start" fill="#000" stroke="#000" stroke-width="0.3">~93%</text>
<text transform="translate(104.10,35.60) scale(1.015,1)" font-size="13" text-anchor="start" fill="#000" stroke="#000" stroke-width="0.3">A+B grains</text>
<text transform="translate(174.50,35.60) scale(1.015,1)" font-size="13" text-anchor="start" fill="#000" stroke="#000" stroke-width="0.3">4-5%</text>
<text transform="translate(104.10,53.60) scale(1.015,1)" font-size="13" text-anchor="start" fill="#000" stroke="#000" stroke-width="0.3">X grains</text>
<text transform="translate(169.80,53.60) scale(1.015,1)" font-size="13" text-anchor="start" fill="#000" stroke="#000" stroke-width="0.3">~1%</text>
<text transform="translate(242.50,17.50) scale(1.015,1)" font-size="13" text-anchor="start" fill="#000" stroke="#000" stroke-width="0.3">Y grains</text>
<text transform="translate(305.90,17.50) scale(1.015,1)" font-size="13" text-anchor="start" fill="#000" stroke="#000" stroke-width="0.3">~1%</text>
<text transform="translate(242.50,35.60) scale(1.015,1)" font-size="13" text-anchor="start" fill="#000" stroke="#000" stroke-width="0.3">Z grains</text>
<text transform="translate(308.70,35.60) scale(1.015,1)" font-size="13" text-anchor="start" fill="#000" stroke="#000" stroke-width="0.3">~1%</text>
<text transform="translate(242.50,53.60) scale(1.015,1)" font-size="13" text-anchor="start" fill="#000" stroke="#000" stroke-width="0.3">Nova grains</text>
</svg></body></html>
